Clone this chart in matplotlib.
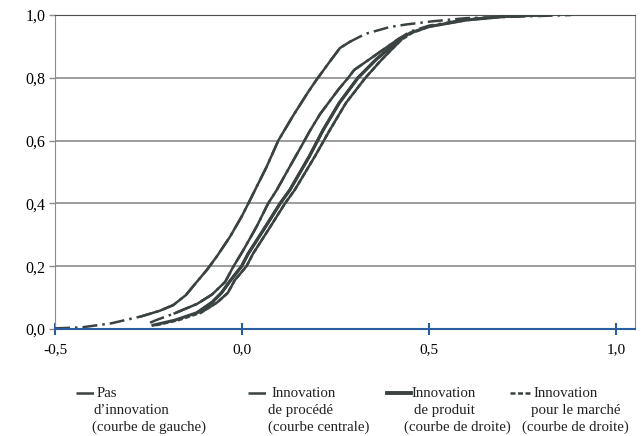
#!/usr/bin/env python3
# -*- coding: utf-8 -*-
import numpy as np
import matplotlib
matplotlib.use("Agg")
import matplotlib.pyplot as plt
from matplotlib.lines import Line2D

plt.rcParams['font.family'] = ['Liberation Serif', 'DejaVu Serif']
plt.rcParams['font.size'] = 10.7

# cumulative distributions
pas_x = [-0.50, -0.43, -0.35, -0.27, -0.22, -0.184, -0.15, -0.121, -0.094, -0.068, -0.032,
         -0.001, 0.017, 0.066, 0.097, 0.137, 0.177, 0.20, 0.235, 0.262, 0.289, 0.33, 0.396,
         0.44, 0.51, 0.60, 0.80, 0.88]
pas_y = [0.002, 0.005, 0.018, 0.04, 0.058, 0.076, 0.108, 0.15, 0.188, 0.23, 0.294,
         0.358, 0.40, 0.517, 0.60, 0.68, 0.755, 0.795, 0.852, 0.895, 0.915, 0.94, 0.962,
         0.97, 0.98, 0.99, 0.997, 1.0]

proc_x = [-0.246, -0.228, -0.18, -0.12, -0.08, -0.045, -0.023, 0.004, 0.039, 0.070, 0.093,
          0.133, 0.16, 0.182, 0.209, 0.258, 0.284, 0.30, 0.36, 0.42, 0.45, 0.50, 0.60, 0.70, 0.80]
proc_y = [0.02, 0.029, 0.05, 0.08, 0.11, 0.15, 0.199, 0.252, 0.326, 0.40, 0.443,
          0.528, 0.585, 0.632, 0.685, 0.763, 0.80, 0.825, 0.875, 0.925, 0.947, 0.966, 0.986, 0.996, 1.0]

prod_x = [-0.238, -0.18, -0.12, -0.08, -0.055, -0.03, -0.001, 0.017, 0.057, 0.102, 0.128,
          0.18, 0.217, 0.26, 0.31, 0.36, 0.42, 0.45, 0.50, 0.60, 0.70, 0.80]
prod_y = [0.012, 0.028, 0.052, 0.085, 0.115, 0.156, 0.20, 0.241, 0.315, 0.40, 0.443,
          0.55, 0.634, 0.72, 0.80, 0.86, 0.92, 0.943, 0.963, 0.984, 0.995, 1.0]

march_x = [-0.23, -0.17, -0.11, -0.066, -0.038, -0.019, 0.012, 0.03, 0.07, 0.115, 0.141,
           0.195, 0.235, 0.278, 0.33, 0.375, 0.425, 0.455, 0.50, 0.60, 0.70, 0.80]
march_y = [0.012, 0.028, 0.052, 0.085, 0.115, 0.156, 0.20, 0.241, 0.315, 0.40, 0.443,
           0.55, 0.634, 0.72, 0.80, 0.86, 0.92, 0.943, 0.963, 0.984, 0.995, 1.0]

xticks = [-0.5, 0.0, 0.5, 1.0]
yticks = [0.0, 0.2, 0.4, 0.6, 0.8, 1.0]

col = '#3b4242'

fig = plt.figure(figsize=(6.44, 4.36), dpi=100)
ax = fig.add_axes([55/644, 1-329/436, 580/644, 314/436])

series = [
    (pas_x, pas_y, (0, (6, 2, 1, 2)), 1.8),
    (proc_x, proc_y, (0, (6, 2, 1, 2)), 1.8),
    (prod_x, prod_y, '-', 2.2),
    (march_x, march_y, (0, (2, 1)), 1.8),
]
for xs, ys, ls, lw in series:
    xs = np.array(xs); ys = np.array(ys)
    ax.plot(xs, ys, color=col, ls=ls, lw=lw, zorder=3)
    core = (ys >= 0.04) & (ys <= 0.93)
    ax.plot(xs[core], ys[core], color=col, ls='-', lw=lw, zorder=3)

ax.set_xlim(-0.5, 1.0508)
ax.set_ylim(0, 1)
ax.set_xticks(xticks)
ax.set_xticklabels([f"{v:.1f}".replace('.', ',') for v in xticks], fontsize=11)
ax.set_yticks(yticks)
ax.set_yticklabels([f"{v:.1f}".replace('.', ',') for v in yticks], fontsize=11.5)
ax.yaxis.grid(True, color='#8c8c8c', lw=1.2)
ax.set_axisbelow(True)

ax.spines['top'].set_color('#4a4f4f')
ax.spines['right'].set_color('#8c8c8c')
ax.spines['left'].set_color('#8c8c8c')
ax.spines['bottom'].set_color('#2a5d9f')
ax.spines['bottom'].set_linewidth(1.5)
ax.spines['bottom'].set_zorder(4)
ax.tick_params(axis='x', direction='inout', length=9, width=1.5, color='#2a5d9f', pad=6)
ax.tick_params(axis='y', direction='out', length=4, width=1, color='#8c8c8c', pad=3)

# legend drawn by hand (multi-line labels laid out as in the reference)
legend = [
    ((0, (7, 2.5, 1, 2)), 1.8, (76, 94), [(97, "Pas"), (93, "d\u2019innovation"), (92, "(courbe de gauche)")]),
    ((0, (7, 2.5, 1, 2)), 1.8, (248, 266), [(271, "Innovation"), (268, "de proc\u00e9d\u00e9"), (268, "(courbe centrale)")]),
    ('-', 2.8, (387, 411), [(412, "Innovation"), (414, "de produit"), (404, "(courbe de droite)")]),
    ((0, (2, 1)), 1.8, (510, 532), [(533, "Innovation"), (531, "pour le march\u00e9"), (522, "(courbe de droite)")]),
]
rows = [393, 410, 427]
for ls, lw, (h0, h1), lines in legend:
    fig.add_artist(Line2D([h0/644, h1/644], [1-rows[0]/436]*2, color=col, ls=ls, lw=lw))
    for (x, t), y in zip(lines, rows):
        fig.text(x/644, 1-y/436, t, ha='left', va='center', color='#222222')

fig.savefig('out.png', dpi=100)
